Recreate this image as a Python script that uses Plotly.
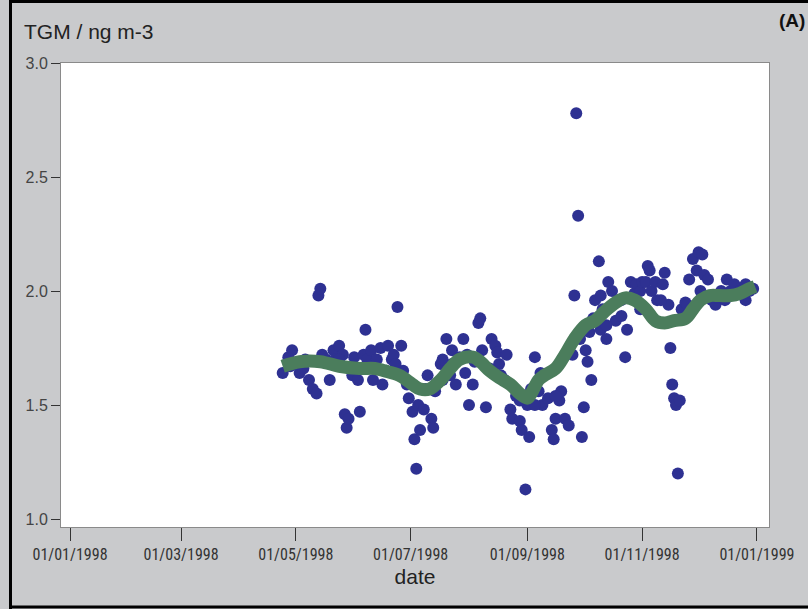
import plotly.graph_objects as go
import pandas as pd

# ---- data (day of year 1998 -> TGM ng m-3) ----
obs_doy = [114, 117, 119, 121, 123, 126, 128, 130, 132, 133, 134, 135, 137, 139, 141, 142,
           144, 146, 147, 148, 149, 151, 152, 154, 155, 157, 158, 159, 161, 162, 164, 166,
           167, 169, 170, 172, 173, 175, 177, 178, 180, 181, 183, 184, 185, 186, 187, 189,
           190, 191, 193, 194, 195, 198, 199, 201, 203, 204, 206, 208, 210, 211, 213, 215,
           216, 218, 219, 220, 222, 224, 225, 227, 228, 230, 232, 233, 235, 236, 238, 240,
           241, 243, 244, 245, 246, 248, 250, 251, 252, 253, 255, 257, 258, 259, 261, 262,
           264, 266, 268, 269, 270, 271, 272, 273, 274, 275, 276, 277, 278, 279, 280, 282,
           283, 284, 286, 287, 289, 291, 292, 294, 296, 297, 299, 301, 302, 304, 305, 307,
           308, 309, 310, 312, 313, 316, 317, 319, 320, 321, 322, 323, 324, 325, 326, 328,
           329, 330, 332, 334, 335, 337, 338, 340, 342, 344, 345, 347, 350, 352, 354, 357,
           360, 362, 364,
           118, 125, 144, 174, 199, 204, 212, 229, 240, 248, 259, 283, 286, 294, 304, 315,
           336, 349, 360]
obs_tgm = [1.64, 1.71, 1.74, 1.68, 1.64, 1.70, 1.61, 1.57, 1.55, 1.98, 2.01, 1.72, 1.70, 1.61, 1.74, 1.70,
           1.76, 1.72, 1.46, 1.40, 1.44, 1.63, 1.71, 1.61, 1.47, 1.72, 1.83, 1.70, 1.74, 1.61, 1.70, 1.75,
           1.59, 1.65, 1.76, 1.70, 1.72, 1.93, 1.76, 1.65, 1.59, 1.53, 1.47, 1.35, 1.22, 1.50, 1.39, 1.48,
           1.57, 1.63, 1.44, 1.40, 1.56, 1.68, 1.61, 1.79, 1.63, 1.68, 1.59, 1.71, 1.79, 1.64, 1.50, 1.59,
           1.69, 1.86, 1.88, 1.74, 1.49, 1.66, 1.79, 1.76, 1.73, 1.63, 1.61, 1.72, 1.48, 1.44, 1.54, 1.43,
           1.39, 1.13, 1.50, 1.36, 1.57, 1.71, 1.56, 1.64, 1.50, 1.63, 1.53, 1.39, 1.35, 1.44, 1.52, 1.56,
           1.44, 1.41, 1.72, 1.98, 2.78, 2.33, 1.79, 1.36, 1.49, 1.74, 1.69, 1.82, 1.61, 1.88, 1.96, 2.13,
           1.98, 1.92, 1.79, 2.04, 2.00, 1.87, 1.96, 1.96, 1.71, 1.83, 2.04, 1.99, 2.03, 2.00, 2.04, 2.04,
           2.11, 2.09, 2.00, 2.04, 1.96, 2.03, 2.08, 1.94, 1.75, 1.59, 1.53, 1.50, 1.20, 1.52, 1.92, 1.95,
           1.94, 2.05, 2.14, 2.09, 2.17, 2.16, 2.07, 2.05, 1.96, 1.94, 1.97, 2.00, 2.05, 2.00, 2.03, 2.00,
           1.96, 2.00, 2.01,
           1.67, 1.66, 1.70, 1.68, 1.70, 1.74, 1.72, 1.68, 1.52, 1.50, 1.54, 1.83, 1.85, 1.89, 1.92, 1.96,
           2.00, 1.96, 2.03]

smooth_doy = [114, 123, 134, 144, 155, 163, 168, 176, 183, 187, 192, 198, 203, 208, 215, 219,
              224, 229, 235, 240, 244, 246, 250, 253, 259, 264, 269, 275, 280, 285, 291, 296,
              301, 307, 312, 317, 322, 328, 332, 336, 341, 346, 352, 357, 362, 365]
smooth_tgm = [1.67, 1.69, 1.69, 1.67, 1.66, 1.66, 1.65, 1.63, 1.59, 1.57, 1.57, 1.61, 1.66, 1.70, 1.71, 1.69,
              1.65, 1.62, 1.59, 1.55, 1.53, 1.55, 1.61, 1.63, 1.66, 1.72, 1.79, 1.85, 1.87, 1.91, 1.95, 1.97,
              1.96, 1.92, 1.87, 1.86, 1.87, 1.88, 1.92, 1.96, 1.98, 1.98, 1.98, 1.99, 2.01, 2.02]

tick_dates = ["1998-01-01", "1998-03-01", "1998-05-01", "1998-07-01", "1998-09-01", "1998-11-01", "1999-01-01"]
tick_labels = ["01/01/1998", "01/03/1998", "01/05/1998", "01/07/1998", "01/09/1998", "01/11/1998", "01/01/1999"]
y_ticks = [1.0, 1.5, 2.0, 2.5, 3.0]
y_labels = ["1.0", "1.5", "2.0", "2.5", "3.0"]

base = pd.Timestamp("1998-01-01")
obs_dates = [base + pd.Timedelta(days=d - 1) for d in obs_doy]
smooth_dates = [base + pd.Timedelta(days=d - 1) for d in smooth_doy]

NARROW = "Liberation Sans Narrow, Arial Narrow, Roboto Condensed, Liberation Sans, sans-serif"
SANS = "Liberation Sans, Arial, sans-serif"

fig = go.Figure()
fig.add_trace(go.Scatter(x=obs_dates, y=obs_tgm, mode="markers",
                         marker=dict(color="#2e3192", size=12, line=dict(width=0)),
                         showlegend=False))
fig.add_trace(go.Scatter(x=smooth_dates, y=smooth_tgm, mode="lines",
                         line=dict(color="#4b7d5c", width=13, shape="spline", smoothing=1.0),
                         showlegend=False))

W, H = 808, 609
ml, mr, mt, mb = 61, 39, 63, 82
pw, ph = W - ml - mr, H - mt - mb

def px(x):
    return (x - ml) / pw

def py(y):
    return (H - mb - y) / ph

fig.update_layout(
    width=W, height=H,
    margin=dict(l=ml, r=mr, t=mt, b=mb, pad=0),
    paper_bgcolor="#c9cacc",
    plot_bgcolor="#ffffff",
    xaxis=dict(
        range=["1997-12-27 05:00", "1999-01-07 10:00"],
        tickvals=tick_dates, ticktext=tick_labels,
        ticks="outside", ticklen=13, tickwidth=1, tickcolor="#333333",
        tickfont=dict(family=NARROW, size=16, color="#333333"),
        showgrid=False, zeroline=False,
        showline=True, mirror=True, linecolor="#8a8a8a", linewidth=1,
        title=dict(text="date", font=dict(family=SANS, size=21, color="#222222"), standoff=6),
    ),
    yaxis=dict(
        range=[0.965, 3.0],
        tickvals=y_ticks, ticktext=y_labels,
        ticks="outside", ticklen=9, tickwidth=1, tickcolor="#333333",
        tickfont=dict(family=SANS, size=16, color="#444444"),
        showgrid=False, zeroline=False,
        showline=True, mirror=True, linecolor="#8a8a8a", linewidth=1,
    ),
    annotations=[
        dict(text="TGM / ng m-3", x=px(22), y=py(32), xref="paper", yref="paper",
             xanchor="left", yanchor="middle", showarrow=False,
             font=dict(family=SANS, size=21, color="#222222")),
        dict(text="<b>(A)</b>", x=px(807), y=py(20), xref="paper", yref="paper",
             xanchor="right", yanchor="middle", showarrow=False,
             font=dict(family=SANS, size=19, color="#111111")),
    ],
    shapes=[
        dict(type="line", xref="paper", yref="paper", x0=px(10.5), x1=px(10.5), y0=py(0), y1=py(609),
             line=dict(color="#000000", width=3), layer="above"),
        dict(type="line", xref="paper", yref="paper", x0=px(9), x1=px(808), y0=py(1.5), y1=py(1.5),
             line=dict(color="#000000", width=3), layer="above"),
        dict(type="line", xref="paper", yref="paper", x0=px(9), x1=px(808), y0=py(607), y1=py(607),
             line=dict(color="#000000", width=3), layer="above"),
    ],
)

fig.write_html("out.html", config={"displayModeBar": False},
               post_script="document.body.style.margin='0';document.body.style.overflow='hidden';")
